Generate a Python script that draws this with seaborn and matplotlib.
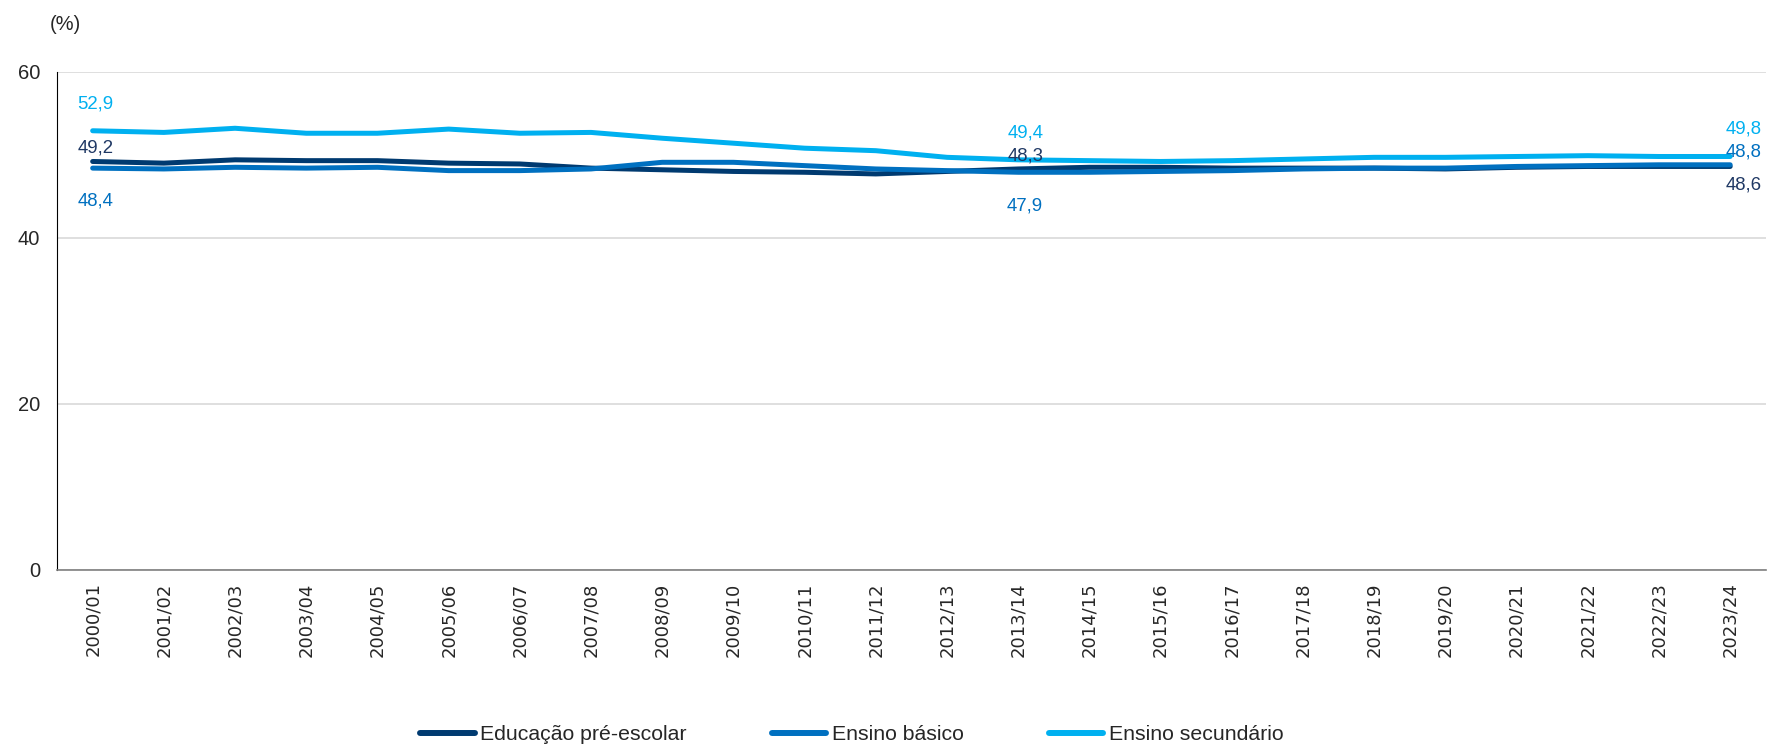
import numpy as np
import pandas as pd
import matplotlib
matplotlib.use("Agg")
import matplotlib.pyplot as plt
import seaborn as sns

# data
years = ["2000/01", "2001/02", "2002/03", "2003/04", "2004/05", "2005/06",
         "2006/07", "2007/08", "2008/09", "2009/10", "2010/11", "2011/12",
         "2012/13", "2013/14", "2014/15", "2015/16", "2016/17", "2017/18",
         "2018/19", "2019/20", "2020/21", "2021/22", "2022/23", "2023/24"]
pre_escolar = [49.2, 49.0, 49.4, 49.3, 49.3, 49.0, 48.9, 48.4, 48.2, 48.0,
               47.9, 47.7, 48.0, 48.3, 48.5, 48.5, 48.4, 48.4, 48.4, 48.3,
               48.5, 48.6, 48.6, 48.6]
basico = [48.4, 48.3, 48.5, 48.4, 48.5, 48.1, 48.1, 48.3, 49.1, 49.1,
          48.7, 48.3, 48.1, 47.9, 47.9, 48.0, 48.1, 48.3, 48.4, 48.4,
          48.6, 48.7, 48.8, 48.8]
secundario = [52.9, 52.7, 53.2, 52.6, 52.6, 53.1, 52.6, 52.7, 52.0, 51.4,
              50.8, 50.5, 49.7, 49.4, 49.3, 49.2, 49.3, 49.5, 49.7, 49.7,
              49.8, 49.9, 49.8, 49.8]
series_names = ["Educação pré-escolar", "Ensino básico", "Ensino secundário"]
colors = ["#003A70", "#0070C0", "#00B0F0"]
label_colors = ["#1F3864", "#0070C0", "#00B0F0"]

df = pd.DataFrame({
    "pos": list(range(len(years))) * 3,
    "valor": pre_escolar + basico + secundario,
    "serie": [s for s in series_names for _ in years],
})

sns.set_style("white")
plt.rcParams["font.family"] = ["Liberation Sans", "DejaVu Sans"]

fig = plt.figure(figsize=(17.67, 7.48), dpi=100)
ax = fig.add_axes([0.0323, 0.238, 0.967, 0.666])

sns.lineplot(data=df, x="pos", y="valor", hue="serie", hue_order=series_names,
             palette=colors, linewidth=3.6, ax=ax, legend=False,
             solid_capstyle="round")

ax.set_xlim(-0.5, len(years) - 0.5)
ax.set_ylim(0, 60)
ax.set_yticks([0, 20, 40, 60])
ax.yaxis.grid(True, color="#D9D9D9", linewidth=1.2)
ax.set_axisbelow(True)
ax.set_xlabel("")
ax.set_ylabel("")

# x labels: wide glyphs like the reference
ax.set_xticks(np.arange(len(years)))
ax.set_xticklabels(years, rotation=90, fontsize=13, family="DejaVu Sans")
ax.set_xticks(np.arange(len(years) + 1) - 0.5, minor=True)
ax.tick_params(axis="x", which="major", length=0, pad=9)
ax.tick_params(axis="x", which="minor", length=3.6, color="#808080", width=1)
ax.tick_params(axis="y", length=4.3, width=1, color="black", labelsize=14.5, pad=8)

for side in ["top", "right"]:
    ax.spines[side].set_visible(False)
ax.spines["left"].set_color("black")
ax.spines["bottom"].set_color("#808080")
ax.spines["bottom"].set_linewidth(1.2)

fig.text(0.028, 0.967, "(%)", fontsize=14.5, ha="left", va="center")

# data labels (offsets in points)
all_series = [pre_escolar, basico, secundario]
label_spec = {
    0: (2, [9.8, -23.5, 19]),
    13: (5, [9.5, -24.5, 19.5]),
    23: (10, [-13, 9, 19.5]),
}
for idx, (dx, offs) in label_spec.items():
    for s, off, c in zip(all_series, offs, label_colors):
        ax.annotate(f"{s[idx]:.1f}".replace(".", ","), (idx, s[idx]),
                    xytext=(dx, off), textcoords="offset points",
                    ha="center", va="center", fontsize=13.4, color=c)

handles = [plt.Line2D([], [], color=c, linewidth=4.3, solid_capstyle="round")
           for c in colors]
fig.legend(handles, series_names, loc="center", bbox_to_anchor=(0.482, 0.0174),
           ncol=3, frameon=False, handlelength=2.58, handletextpad=0.25,
           columnspacing=4.0, borderpad=0, fontsize=15.3)

fig.savefig("out.png", dpi=100)
